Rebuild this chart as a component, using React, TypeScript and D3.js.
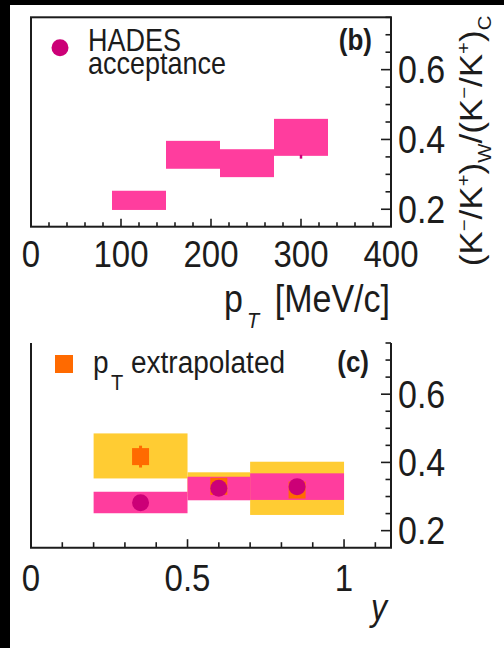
import React from 'react'
import * as d3 from 'd3'

// panel (b): ratio vs pT (HADES acceptance), systematic boxes
const ptLow = [90, 150, 210, 270]
const ptHigh = [150, 210, 270, 330]
const ptSysLow = [0.198, 0.316, 0.292, 0.353]
const ptSysHigh = [0.253, 0.396, 0.372, 0.459]
// the only stat. error end that peeks out below the last box
const ptStatX = [300]
const ptStatLow = [0.345]
const ptStatHigh = [0.356]

// panel (c): ratio vs rapidity
const rapLow = [0.2, 0.5, 0.7]
const rapHigh = [0.5, 0.7, 1.0]
const rapCenter = [0.35, 0.6, 0.85]
const accValue = [0.282, 0.324, 0.329]
const accSysLow = [0.251, 0.289, 0.29]
const accSysHigh = [0.314, 0.358, 0.368]
const extValue = [0.417, 0.33, 0.319]
const extStat = [0.032, 0, 0]
const extSysLow = [0.353, 0.3, 0.246]
const extSysHigh = [0.485, 0.371, 0.402]

const ptTicks = [0, 100, 200, 300, 400]
const rapTicks = [0, 0.5, 1]
const ratioTicks = [0.2, 0.4, 0.6]

const PINK = '#ff3d9e'
const MAGENTA = '#cc0077'
const YELLOW = '#ffcc33'
const ORANGE = '#ff6a00'
const INK = '#1c1c1c'
const FONT = '"Liberation Sans", Arial, Helvetica, sans-serif'
const ST = 1.13 // the figure is a bit taller than wide

function Txt({ x, y, size, anchor = 'start', weight = 400, italic = false, children }: any) {
  return (
    <text
      transform={`translate(${x},${y}) scale(1,${ST})`}
      fontSize={size}
      textAnchor={anchor}
      fontWeight={weight}
      fontStyle={italic ? 'italic' : 'normal'}
      fill={INK}
    >
      {children}
    </text>
  )
}

function RatioAxis({ y, x0, label }: any) {
  const minor = d3.range(0.2, 0.751, 0.05)
  return (
    <g>
      {minor.map(v => {
        const major = ratioTicks.some(t => Math.abs(t - v) < 1e-6)
        return (
          <line key={v} x1={x0} x2={x0 - (major ? 10 : 5.5)} y1={y(v)} y2={y(v)}
            stroke={INK} strokeWidth={1.6} />
        )
      })}
      {label && ratioTicks.map(v => (
        <Txt key={v} x={x0 + 7} y={y(v) + 13.5} size={34}>{String(v)}</Txt>
      ))}
    </g>
  )
}

export default function App() {
  const W = 504, H = 648

  // panel (b)
  const xb = d3.scaleLinear().domain([0, 400]).range([31, 391])
  const yb = d3.scaleLinear().domain([0.15, 0.75]).range([226.7, 17.3])
  // panel (c)
  const xc = d3.scaleLinear().domain([0, 1.15]).range([31, 391])
  const yc = d3.scaleLinear().domain([0.15, 0.75]).range([547.7, 343])

  const ptMinor = d3.range(20, 400, 20)
  const rapMinor = d3.range(0.1, 1.15, 0.1)

  return (
    <svg width={W} height={H} viewBox={`0 0 ${W} ${H}`}
      style={{ position: 'fixed', left: 0, top: 0, fontFamily: FONT }}>
      <rect width={W} height={H} fill="#000" />
      <rect x={10} y={5} width={W - 10} height={H - 5} fill="#fff" />

      {/* ---------- panel (b) ---------- */}
      <g>
        {ptLow.map((lo, i) => (
          <rect key={i} x={xb(lo)} width={xb(ptHigh[i]) - xb(lo)}
            y={yb(ptSysHigh[i])} height={yb(ptSysLow[i]) - yb(ptSysHigh[i])} fill={PINK} />
        ))}
        {ptStatX.map((v, i) => (
          <line key={i} x1={xb(v)} x2={xb(v)} y1={yb(ptStatHigh[i])} y2={yb(ptStatLow[i])}
            stroke={MAGENTA} strokeWidth={2.5} />
        ))}

        {ptMinor.map(v => {
          const major = v % 100 === 0
          return (
            <line key={v} x1={xb(v)} x2={xb(v)} y1={yb(0.15)} y2={yb(0.15) - (major ? 8 : 4.5)}
              stroke={INK} strokeWidth={1.6} />
          )
        })}
        <RatioAxis y={yb} x0={xb(400)} label />
        <rect x={xb(0)} y={yb(0.75)} width={xb(400) - xb(0)} height={yb(0.15) - yb(0.75)}
          fill="none" stroke={INK} strokeWidth={2} />

        {ptTicks.map(v => (
          <Txt key={v} x={xb(v)} y={266.7} size={33} anchor="middle">{String(v)}</Txt>
        ))}

        <Txt x={224} y={312} size={34}>p</Txt>
        <Txt x={247} y={328} size={20} italic>T</Txt>
        <Txt x={390} y={312} size={34} anchor="end">[MeV/c]</Txt>

        <circle cx={60} cy={47.7} r={8.5} fill={MAGENTA} />
        <Txt x={88} y={51} size={27}>HADES</Txt>
        <Txt x={88} y={74} size={27}>acceptance</Txt>
        <Txt x={372} y={50} size={26} weight={700} anchor="end">(b)</Txt>
      </g>

      {/* ---------- panel (c) ---------- */}
      <g>
        {rapLow.map((lo, i) => (
          <rect key={'y' + i} x={xc(lo)} width={xc(rapHigh[i]) - xc(lo)}
            y={yc(extSysHigh[i])} height={yc(extSysLow[i]) - yc(extSysHigh[i])} fill={YELLOW} />
        ))}
        {rapLow.map((lo, i) => (
          <rect key={'p' + i} x={xc(lo)} width={xc(rapHigh[i]) - xc(lo)}
            y={yc(accSysHigh[i])} height={yc(accSysLow[i]) - yc(accSysHigh[i])} fill={PINK} />
        ))}
        {rapCenter.map((v, i) => (
          <g key={'o' + i}>
            {extStat[i] > 0 && (
              <line x1={xc(v)} x2={xc(v)} y1={yc(extValue[i] + extStat[i])}
                y2={yc(extValue[i] - extStat[i])} stroke={ORANGE} strokeWidth={3} />
            )}
            <rect x={xc(v) - 8.5} y={yc(extValue[i]) - 8.5} width={17} height={17} fill={ORANGE} />
          </g>
        ))}
        {rapCenter.map((v, i) => (
          <circle key={'c' + i} cx={xc(v)} cy={yc(accValue[i])} r={8.5} fill={MAGENTA} />
        ))}

        {rapMinor.map(v => {
          const major = Math.abs(v * 2 - Math.round(v * 2)) < 1e-6
          return (
            <line key={v} x1={xc(v)} x2={xc(v)} y1={yc(0.15)} y2={yc(0.15) - (major ? 8.5 : 5.5)}
              stroke={INK} strokeWidth={1.6} />
          )
        })}
        <RatioAxis y={yc} x0={xc(1.15)} label />
        <path
          d={`M${xc(0)},${yc(0.75)} V${yc(0.15)} H${xc(1.15)} V${yc(0.75)}`}
          fill="none" stroke={INK} strokeWidth={2} />

        {rapTicks.map(v => (
          <Txt key={v} x={xc(v)} y={591} size={33} anchor="middle">{String(v)}</Txt>
        ))}
        <Txt x={387} y={620} size={32} italic anchor="end">y</Txt>

        <rect x={55} y={355} width={18} height={18} fill={ORANGE} />
        <Txt x={93} y={373.3} size={28}>p</Txt>
        <Txt x={111} y={390} size={20}>T</Txt>
        <Txt x={131} y={373.3} size={28}>extrapolated</Txt>
        <Txt x={369} y={371.7} size={26} weight={700} anchor="end">(c)</Txt>
      </g>

      {/* shared y title */}
      <text transform={`translate(482,141) rotate(-90) scale(${ST},1)`} textAnchor="middle"
        fontSize={31} fill={INK}>
        (K<tspan dy={-12} fontSize={18}>−</tspan>
        <tspan dy={12}>/K</tspan><tspan dy={-12} fontSize={18}>+</tspan>
        <tspan dy={12}>)</tspan><tspan dy={9} fontSize={18}>W</tspan>
        <tspan dy={-9}>/(K</tspan><tspan dy={-12} fontSize={18}>−</tspan>
        <tspan dy={12}>/K</tspan><tspan dy={-12} fontSize={18}>+</tspan>
        <tspan dy={12}>)</tspan><tspan dy={9} fontSize={18}>C</tspan>
      </text>
    </svg>
  )
}
